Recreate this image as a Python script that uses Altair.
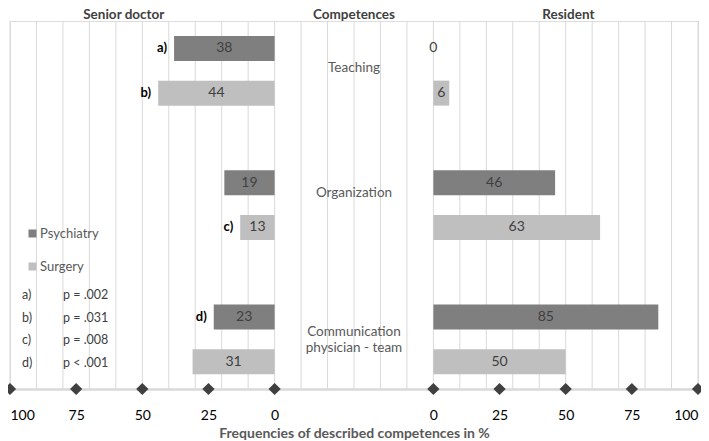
import altair as alt
import pandas as pd

# ---------------- data ----------------
COMPETENCES = ["Teaching", "Organization", "Communication\nphysician - team"]
GROUPS = ["Psychiatry", "Surgery"]
SENIOR_PSY = [38, 19, 23]
SENIOR_SUR = [44, 13, 31]
RESIDENT_PSY = [0, 46, 85]
RESIDENT_SUR = [6, 63, 50]
SENIOR_MARK_PSY = ["a)", "", "d)"]
SENIOR_MARK_SUR = ["b)", "c)", ""]
SIG_KEYS = ["a)", "b)", "c)", "d)"]
SIG_P = ["p = .002", "p = .031", "p = .008", "p < .001"]
TICKS = [100, 75, 50, 25, 0]
PANEL_TITLES = ["Senior doctor", "Competences", "Resident"]

# ---------------- layout ----------------
OFFSET = 60                      # width of the middle column, in % units
TITLE_X = [-57, 30, 111]
LABEL_ROWS = [0.43, 3.23, 6.33]
W, H = 688, 368

rows = []
for k in range(3):
    for g, (sv, rv, mk) in enumerate([
        (SENIOR_PSY[k], RESIDENT_PSY[k], SENIOR_MARK_PSY[k]),
        (SENIOR_SUR[k], RESIDENT_SUR[k], SENIOR_MARK_SUR[k]),
    ]):
        r = 3 * k + g
        rows.append(dict(side="Senior", group=GROUPS[g], value=sv, start=0,
                         end=-sv, row=r, mark=mk))
        rows.append(dict(side="Resident", group=GROUPS[g], value=rv,
                         start=OFFSET, end=OFFSET + rv, row=r, mark=""))
bars_df = pd.DataFrame(rows)
bars_df["mid"] = (bars_df["start"] + bars_df["end"]) / 2

tick_df = pd.DataFrame({"t": [-t for t in TICKS] + [OFFSET + t for t in TICKS[::-1]]})
grid_df = pd.DataFrame({"g": list(range(-100, OFFSET + 101, 10))})
cat_df = pd.DataFrame({"label": COMPETENCES, "row": LABEL_ROWS, "x": [OFFSET / 2] * 3})
title_df = pd.DataFrame({"label": PANEL_TITLES, "x": TITLE_X})
sig_df = pd.DataFrame({"key": SIG_KEYS, "p": SIG_P, "i": list(range(4))})
mark_df = bars_df[bars_df["mark"] != ""]

xs = alt.Scale(domain=[-100, OFFSET + 100], nice=False, zero=False)
ys = alt.Scale(domain=[-0.5, 7.5], reverse=True, nice=False, zero=False)
xaxis = alt.Axis(
    values=tick_df["t"].tolist(),
    labelExpr="datum.value > 30 ? datum.value - 60 : -datum.value",
    labelAlign=alt.ExprRef(
        expr="datum.value == -100 ? 'left' : (datum.value == 160 ? 'right' : 'center')"),
    grid=False, ticks=False, domain=True, domainColor="#d9d9d9", domainWidth=2.5,
    labelFontSize=14, labelColor="#000000", labelPadding=19, labelFlush=False,
    title="Frequencies of described competences in %", titleFontSize=14,
    titleFontWeight="bold", titleColor="#595959", titlePadding=4,
)


def X(field):
    return alt.X(field, scale=xs, axis=xaxis)


def Y(field):
    return alt.Y(field, scale=ys, axis=None)


grid = alt.Chart(grid_df).mark_rule(color="#d9d9d9", strokeWidth=1).encode(x=X("g:Q"))

bars = alt.Chart(bars_df).mark_bar(size=25).encode(
    x=X("start:Q"), x2="end:Q", y=Y("row:Q"),
    color=alt.Color("group:N", scale=alt.Scale(domain=GROUPS, range=["#7f7f7f", "#bfbfbf"]),
                    legend=alt.Legend(title=None, orient="none", legendX=16, legendY=206,
                                      symbolType="square", symbolSize=64,
                                      symbolStrokeWidth=0, labelFontSize=13,
                                      labelColor="#595959", rowPadding=19,
                                      labelOffset=1)),
)

values = alt.Chart(bars_df).mark_text(fontSize=14, color="#404040").encode(
    x=X("mid:Q"), y=Y("row:Q"), text="value:Q")

marks = alt.Chart(mark_df).mark_text(fontSize=13, fontWeight="bold", color="#000000",
                                    align="right", dx=-7).encode(
    x=X("end:Q"), y=Y("row:Q"), text="mark:N")

cats = alt.Chart(cat_df).mark_text(fontSize=13.5, color="#595959", lineBreak="\n",
                                   lineHeight=16.5).encode(
    x=X("x:Q"), y=Y("row:Q"), text="label:N")

titles = alt.Chart(title_df).mark_text(fontSize=13.5, fontWeight="bold", color="#404040",
                                       baseline="alphabetic").encode(
    x=X("x:Q"), y=alt.value(-2), text="label:N")

sig_keys = alt.Chart(sig_df).transform_calculate(r="5.52 + datum.i * 0.5").mark_text(
    fontSize=12.5, color="#404040", align="left").encode(
    x=alt.value(12), y=Y("r:Q"), text="key:N")

sig_p = alt.Chart(sig_df).transform_calculate(r="5.52 + datum.i * 0.5").mark_text(
    fontSize=12.5, color="#404040", align="left").encode(
    x=alt.value(53), y=Y("r:Q"), text="p:N")

diamonds = alt.Chart(tick_df).mark_point(shape="diamond", filled=True, size=150,
                                         color="#404040", opacity=1).encode(
    x=X("t:Q"), y=alt.value(H))

chart = alt.layer(grid, bars, values, marks, cats, titles, sig_keys, sig_p, diamonds).properties(
    width=W, height=H,
    autosize=alt.AutoSizeParams(type="none"),
    padding={"left": 2, "top": 13, "right": 3, "bottom": 52},
).configure_view(stroke="#d9d9d9", strokeWidth=2.5).configure(font="Lato")

chart.save("out.html", embed_options={"renderer": "svg", "actions": False})
